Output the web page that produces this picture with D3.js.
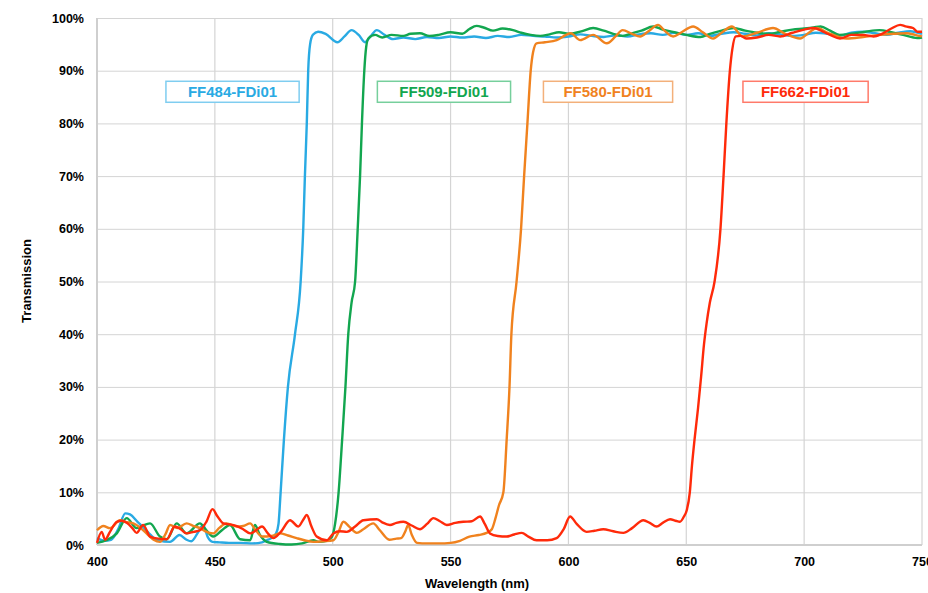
<!DOCTYPE html>
<html><head><meta charset="utf-8">
<script src="https://cdn.jsdelivr.net/npm/d3@7"></script>
<style>body{margin:0;background:#fff;} svg{display:block;font-family:"Liberation Sans",Arial,sans-serif;}</style>
</head><body>
<svg id="chart" width="928" height="593"></svg>
<script>
const xTicks = [400,450,500,550,600,650,700,750];
const yTicks = [0,10,20,30,40,50,60,70,80,90,100];
const seriesNames = ["FF484-FDi01","FF509-FDi01","FF580-FDi01","FF662-FDi01"];
const seriesColors = ["#29aae3","#12a64f","#f0821e","#ff2a0a"];
const legendColors = ["#7fcdf0","#76cf9c","#f3b07a","#ff7a6a"];

const blueNm = [400,403,406,409,412,414,417,420,423,426,431,435,438,440,443,445,447,449,452,456,461,466,470,472,474,476,477,477.9,479.3,481,484,486.4,487.5,488.2,489,489.6,490.4,491.6,493.8,497,502,505,508,511,513.7,516,518.7,522,525.6,530,535,540,545,550,555,560,565,570,575,580,585,590,595,600,605,610,615,620,625,630,635,640,645,650,655,660,665,670,675,680,685,690,695,700,705,710,715,720,725,730,735,740,745,750];
const blueT = [1.3,0.8,1.0,3.0,6.0,5.8,4.5,3.2,1.8,0.9,0.6,1.9,1.0,0.7,2.5,3.8,1.5,0.6,0.5,0.4,0.4,0.3,0.5,0.9,1.3,2.2,4,10,20,30,40,50,60,70,80,90,95,96.8,97.4,97.0,95.4,96.5,97.7,96.8,95.4,96.5,97.7,96.8,96.0,96.3,96.0,96.4,96.2,96.5,96.3,96.5,96.2,96.6,96.4,96.8,96.6,96.5,96.3,96.5,96.9,96.6,96.4,96.7,96.5,96.9,97.1,96.8,97.2,96.8,97.1,96.6,97.0,97.3,97.0,96.7,97.1,96.9,96.6,96.8,97.2,97.0,96.6,97.2,97.4,97.1,96.8,97.2,97.5,97.0];

const greenNm = [400,404,408.4,412.6,416.8,419,422.5,426.7,429.6,433.8,438,443.7,446,449.3,453,456.4,460.7,465,467,469,472,477.6,482.5,487,491.8,494,497.5,499.6,501,502.5,504,505.4,506.6,508,509.5,510.6,511.6,512.4,513.4,514.2,515.1,518,521,525,530,533,537,541,545,550,555,558,561,564,568,572,576.5,580,584,588,592,596,600,605,610.5,615,619,623,627,631,636,640,645,650,656,660,665,670,675,680,685,690,695,700,704,707,711,715,720,726,732,737,742,748,750];
const greenT = [0.4,0.9,2.2,5.1,3.2,3.6,4.1,1.6,1.1,4.1,2.2,4.1,3.0,1.6,2.8,3.8,1.1,0.9,3.8,2.0,0.6,0.2,0.1,0.3,0.9,0.6,0.8,1.5,4,10,20,30,40,46,50,60,70,80,90,94.5,96.1,96.8,96.3,96.8,96.6,97.0,97.1,96.6,96.8,97.3,97.0,97.9,98.5,98.2,97.6,98.0,97.7,97.2,96.8,96.6,96.9,97.3,97.0,97.4,98.1,97.6,97.0,96.6,97.1,97.6,98.4,97.8,97.3,96.8,96.4,97.0,97.6,98.1,97.6,97.2,97.0,97.4,97.8,98.0,98.2,98.4,97.6,96.8,97.0,97.4,97.7,97.3,96.8,96.2,96.3];

const orangeNm = [400,402.7,405.5,409.8,412,415.4,418,421,424,426.7,429,431,434,438,441,443.7,446,449.3,452,455,459.3,462,465,467,470,474,477.6,481,484.7,488,491.8,496,500.3,502.5,504.5,507,510.2,513,517.2,520,524,527,529,531,532,533.5,535.8,540,545,550,554,558,562,565.3,567.5,569,570.5,572.4,573.8,575,575.8,578,579.9,581.2,582.6,584,585,586.5,590,595,599,601,605,610.5,616.3,620,623,627,630.4,634,638,641,644.4,648,652.9,657,661.4,665,669.3,674,680,686.8,692,698.3,702,705.3,710,718,725,732,738,743.5,747,750];
const orangeT = [2.8,3.6,3.2,4.7,4.4,4.1,3.4,2.2,1.0,0.6,2.0,3.8,3.2,4.1,3.6,3.2,2.6,2.2,3.3,4.1,3.5,3.6,4.1,3.0,1.6,1.7,2.2,1.8,1.3,0.9,0.6,0.7,0.9,2.5,4.4,3.5,2.3,3.0,4.1,2.8,1.0,1.2,1.3,2.8,3.8,2.0,0.4,0.3,0.3,0.4,0.8,1.6,1.9,2.3,3,5,7.5,10,20,30,40,50,60,70,80,90,93.5,95.2,95.4,95.8,96.8,97.1,95.8,96.8,95.2,96.5,97.7,97.0,96.5,97.5,98.7,97.5,96.5,97.3,98.4,97.3,96.1,97.2,98.4,96.5,97.2,98.1,97.0,96.1,97.2,98.1,97.2,96.1,96.4,96.8,97.0,97.1,96.8,96.5];

const redNm = [400,402,403.4,405.5,408.4,410.5,412.6,415,416.8,419.6,422.5,426,429.6,433,435.5,438,441,443.7,446.5,449,451,453.6,456.5,459.3,462,465,467.5,470,472.5,474.8,478,481.9,485.4,487.5,489,491,493.2,497.5,500.3,503,506,509.5,513,518.7,521,524.3,527,530,533.5,537,540,542.7,545.5,548.4,552,555.4,559,562.5,564.5,566.7,570,573.8,577,580.2,583,586.5,591,595,598,600.7,603.5,607.7,611,614.8,619,623.3,627,631.8,634.5,637.4,640,643.1,645.5,647.3,649,650.2,651.5,652.4,653.5,655,656.3,657.5,658.6,660,662,664.5,665.8,667,668.5,669.5,671,673,675.6,680,685,689.8,695,700,704,708,711,715.2,720,725,729.4,733,737,740.7,743,746.2,748,750];
const redT = [0.4,2.5,1.0,2.5,4.4,4.6,4.2,3.2,2.3,3.8,1.6,1.2,1.1,3.5,3.0,2.2,2.5,2.8,4.5,6.8,5.5,4.1,3.9,3.6,3.0,2.2,2.8,3.5,2.2,1.3,2.5,4.7,3.5,4.8,5.7,3.5,1.6,0.9,2.2,2.6,2.5,3.5,4.7,4.9,4.3,3.8,4.2,4.4,3.7,3.0,4.0,5.1,4.5,3.8,4.2,4.4,4.5,5.4,4.0,2.2,1.7,1.6,2.0,2.3,1.6,0.9,0.9,1.3,3.0,5.4,4.0,2.5,2.7,3.0,2.6,2.3,3.2,4.7,4.2,3.5,4.2,4.9,4.6,4.4,5.4,6.6,10,15,20,26,32,38,42,46,50,60,70,80,90,94,96.5,96.6,96.1,96.3,96.8,96.5,97.2,97.8,98.1,97.4,96.8,96.1,96.8,96.8,96.5,97.0,98.0,98.7,98.4,98.1,97.4,97.4];

const seriesNm = [blueNm, greenNm, orangeNm, redNm];
const seriesT = [blueT, greenT, orangeT, redT];
const legendCenterNm = [457.5, 547.2, 616.8, 700.6];
const legendCenterT = [86.0, 86.0, 86.0, 86.0];
const legendPad = [22, 22, 20, 18];

const svg = d3.select("#chart");
const L = 97, R = 922, T = 18, B = 545;
const x = d3.scaleLinear().domain([400,750]).range([L,R]);
const y = d3.scaleLinear().domain([0,100]).range([B,T]);

// grid
svg.append("g").selectAll("line").data(yTicks).join("line")
  .attr("x1",L).attr("x2",R).attr("y1",d=>y(d)+0.5).attr("y2",d=>y(d)+0.5)
  .attr("stroke","#d4d4d4").attr("stroke-width",1);
svg.append("g").selectAll("line").data(xTicks).join("line")
  .attr("y1",T).attr("y2",B).attr("x1",d=>x(d)).attr("x2",d=>x(d))
  .attr("stroke","#d4d4d4").attr("stroke-width",1.2);
svg.append("line").attr("x1",L).attr("x2",L).attr("y1",T).attr("y2",B).attr("stroke","#cfcfcf").attr("stroke-width",2);
svg.append("line").attr("x1",L).attr("x2",R).attr("y1",B).attr("y2",B).attr("stroke","#cfcfcf").attr("stroke-width",2);

// axes labels
const xAxis = d3.axisBottom(x).tickValues(xTicks).tickSize(0).tickPadding(12).tickFormat(d3.format("d"));
const gx = svg.append("g").attr("transform",`translate(0,${B})`).call(xAxis);
gx.select(".domain").remove();
gx.selectAll("text").attr("font-family","Liberation Sans, Arial, sans-serif").attr("font-size","12.5px").attr("font-weight","bold").attr("fill","#000");

const yAxis = d3.axisLeft(y).tickValues(yTicks).tickSize(0).tickPadding(13).tickFormat(d=>d+"%");
const gy = svg.append("g").attr("transform",`translate(${L},0)`).call(yAxis);
gy.select(".domain").remove();
gy.selectAll("text").attr("font-family","Liberation Sans, Arial, sans-serif").attr("font-size","12.5px").attr("font-weight","bold").attr("fill","#000");

svg.append("text").attr("x",477).attr("y",588).attr("text-anchor","middle")
  .attr("font-size","13px").attr("font-weight","bold").text("Wavelength (nm)");
svg.append("text").attr("transform","translate(31,281) rotate(-90)").attr("text-anchor","middle")
  .attr("font-size","13px").attr("font-weight","bold").text("Transmission");

// lines
const line = d3.line().x(d=>x(d[0])).y(d=>y(d[1])).curve(d3.curveMonotoneX);
seriesNm.forEach((nm,i)=>{
  const pts = nm.map((v,j)=>[v, seriesT[i][j]]);
  svg.append("path").datum(pts).attr("d",line).attr("fill","none")
    .attr("stroke",seriesColors[i]).attr("stroke-width",2.4).attr("stroke-linejoin","round");
});

// legend boxes
seriesNames.forEach((name,i)=>{
  const cx = x(legendCenterNm[i]), cy = y(legendCenterT[i]);
  const g = svg.append("g");
  const t = g.append("text").attr("x",cx).attr("y",cy+5.5).attr("text-anchor","middle")
    .attr("font-size","15px").attr("font-weight","bold").attr("fill",seriesColors[i]).text(name);
  const w = t.node().getComputedTextLength();
  g.insert("rect","text").attr("x",cx - w/2 - legendPad[i]).attr("y",cy-10.5).attr("width",w+2*legendPad[i]).attr("height",21)
    .attr("fill","#fff").attr("stroke",legendColors[i]).attr("stroke-width",1.5);
});
</script>
</body></html>
